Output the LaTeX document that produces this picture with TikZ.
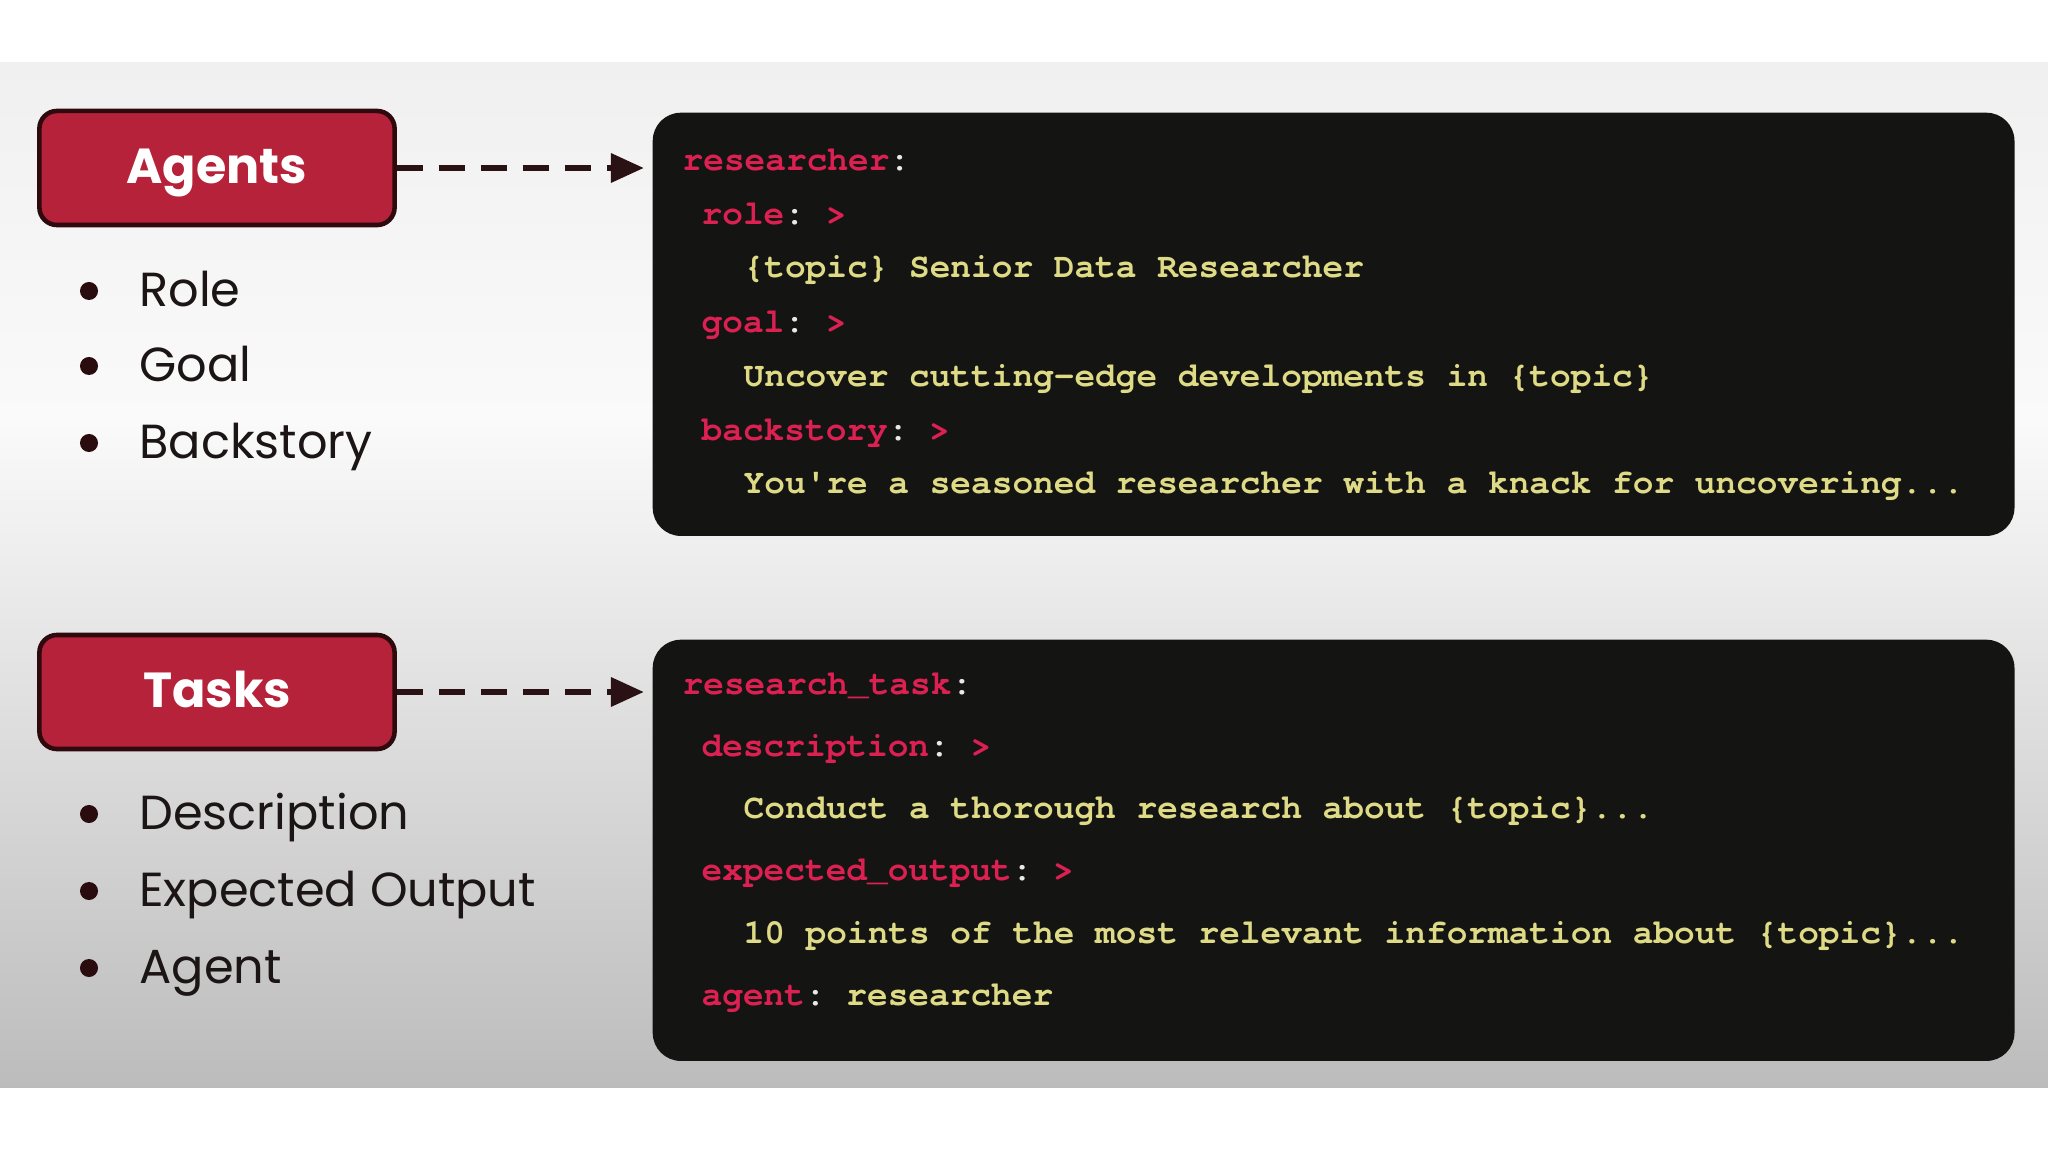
\documentclass[tikz,border=0pt]{standalone}
\usepackage{fontspec}
\setmainfont{Poppins}
\setmonofont{TeX Gyre Cursor}
\usetikzlibrary{arrows.meta,positioning}

\definecolor{bandtop}{HTML}{F0F0F0}
\definecolor{bandmid}{HTML}{FAFAFA}
\definecolor{bandlow}{HTML}{BCBCBC}
\definecolor{headred}{HTML}{B5223A}
\definecolor{headborder}{HTML}{2E0A0E}
\definecolor{codebg}{HTML}{141512}
\definecolor{codekey}{HTML}{DC2052}
\definecolor{codeval}{HTML}{DEDA86}
\definecolor{codetext}{HTML}{E8E8E8}
\definecolor{itemcol}{HTML}{1C1515}
\definecolor{dotcol}{HTML}{2A0C0E}
\definecolor{arrowcol}{HTML}{2A1214}

\newcommand{\ykey}[1]{\textcolor{codekey}{#1}}
\newcommand{\yval}[1]{\textcolor{codeval}{#1}}

\begin{document}
\begin{tikzpicture}[x=0.01cm,y=-0.01cm,
    heading/.style={rectangle,draw=headborder,line width=1.3pt,fill=headred,rounded corners=5pt,minimum width=3.55cm,minimum height=1.14cm,text=white,font=\fontsize{14}{16}\selectfont\bfseries,text height=0.88em,text depth=0pt},
    codebox/.style={rectangle,fill=codebg,rounded corners=8pt,anchor=north west,minimum width=13.61cm},
    codeline/.style={anchor=base west,inner sep=0pt,text=codetext,font=\ttfamily\bfseries\fontsize{9.8}{11}\selectfont},
    dot/.style={circle,fill=dotcol,inner sep=0pt,minimum size=0.18cm},
    item/.style={inner sep=0pt,text=itemcol,font=\fontsize{13.6}{16}\selectfont,text height=0.9em,text depth=0pt},
    arrow/.style={-{Triangle[length=0.33cm,width=0.28cm]},dash pattern=on 0.26cm off 0.16cm,line width=1.8pt,draw=arrowcol,shorten >=0.08cm}
]

% Canvas and background band
\useasboundingbox[fill=white] (0,0) rectangle (2048,1152);
\shade[top color=bandtop,bottom color=bandmid] (0,63) rectangle (2048,420);
\shade[top color=bandmid,bottom color=bandlow] (0,420) rectangle (2048,1087);

% Agents
\node[heading] (agents) at (217,168) {Agents};
\node[dot] (roledot) at (89,291) {};
\node[item,right=0.4cm of roledot] (role) {Role};
\node[dot] (goaldot) at (89,366) {};
\node[item,right=0.4cm of goaldot] (goal) {Goal};
\node[dot] (backdot) at (89,443) {};
\node[item,right=0.4cm of backdot] (backstory) {Backstory};

% Agent yaml
\node[codebox,minimum height=4.23cm] (agentcode) at (652,112) {};
\node[codeline] (ac1) at (682,171) {\ykey{researcher}:};
\node[codeline] (ac2) at (701,225) {\ykey{role}: \ykey{>}};
\node[codeline] (ac3) at (743,278) {\yval{\{topic\} Senior Data Researcher}};
\node[codeline] (ac4) at (701,333) {\ykey{goal}: \ykey{>}};
\node[codeline] (ac5) at (743,387) {\yval{Uncover cutting-edge developments in \{topic\}}};
\node[codeline] (ac6) at (701,441) {\ykey{backstory}: \ykey{>}};
\node[codeline] (ac7) at (743,494) {\yval{You're a seasoned researcher with a knack for uncovering...}};

% Tasks
\node[heading] (tasks) at (217,692) {Tasks};
\node[dot] (descdot) at (89,814) {};
\node[item,right=0.4cm of descdot] (description) {Description};
\node[dot] (expdot) at (89,891) {};
\node[item,right=0.4cm of expdot] (expected) {Expected Output};
\node[dot] (agentdot) at (89,968) {};
\node[item,right=0.4cm of agentdot] (agent) {Agent};

% Task yaml
\node[codebox,minimum height=4.21cm] (taskcode) at (652,639) {};
\node[codeline] (tc1) at (682,695) {\ykey{research\_task}:};
\node[codeline] (tc2) at (701,756) {\ykey{description}: \ykey{>}};
\node[codeline] (tc3) at (743,818) {\yval{Conduct a thorough research about \{topic\}...}};
\node[codeline] (tc4) at (701,880) {\ykey{expected\_output}: \ykey{>}};
\node[codeline] (tc5) at (743,943) {\yval{10 points of the most relevant information about \{topic\}...}};
\node[codeline] (tc6) at (701,1005) {\ykey{agent}: \yval{researcher}};

% Arrows
\draw[arrow] (agents.east) -- (agents.east -| agentcode.west);
\draw[arrow] (tasks.east) -- (tasks.east -| taskcode.west);

\end{tikzpicture}
\end{document}
